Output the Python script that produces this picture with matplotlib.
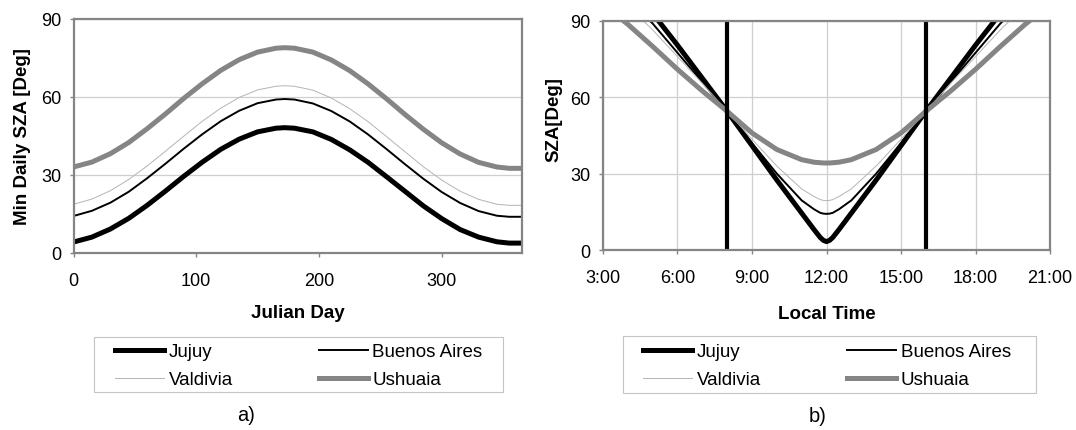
import matplotlib
matplotlib.use("Agg")
import matplotlib.pyplot as plt
from matplotlib.patches import Rectangle
from matplotlib.ticker import FixedLocator, FuncFormatter

plt.rcParams['font.family'] = ['Liberation Sans', 'DejaVu Sans']

# panel a) minimum daily SZA over the year
days = [0, 15, 30, 45, 60, 75, 90, 105, 120, 135, 150, 165, 172, 180, 195,
        210, 225, 240, 255, 270, 285, 300, 315, 330, 345, 355, 365]
jujuy_min = [4.2, 6.1, 9.2, 13.3, 18.3, 23.8, 29.5, 34.9, 39.8, 43.7, 46.5, 47.9, 48.1, 47.9,
             46.5, 43.6, 39.6, 34.8, 29.3, 23.7, 18.1, 13.2, 9.0, 6.1, 4.3, 3.8, 3.8]
bsas_min = [14.2, 16.2, 19.3, 23.5, 28.7, 34.3, 40.1, 45.6, 50.6, 54.6, 57.5, 58.9, 59.1, 58.9,
            57.4, 54.5, 50.5, 45.5, 39.9, 34.1, 28.5, 23.4, 19.2, 16.1, 14.3, 13.9, 13.9]
valdivia_min = [18.7, 20.7, 23.9, 28.2, 33.4, 39.1, 44.9, 50.6, 55.6, 59.7, 62.6, 64.0, 64.2, 64.0,
                62.5, 59.5, 55.4, 50.4, 44.7, 38.9, 33.1, 28.0, 23.7, 20.6, 18.7, 18.3, 18.3]
ushuaia_min = [33.0, 34.9, 38.1, 42.4, 47.7, 53.4, 59.4, 65.0, 70.1, 74.2, 77.1, 78.6, 78.8, 78.6,
               77.1, 74.1, 70.0, 64.9, 59.2, 53.2, 47.5, 42.3, 38.0, 34.8, 33.0, 32.5, 32.5]

# panel b) SZA along the day (hours, local time)
hours = [3, 4, 5, 6, 7, 8, 9, 10, 11, 11.5, 11.75, 11.875, 12, 12.125, 12.25, 12.5,
         13, 14, 15, 16, 17, 18, 19, 20, 21]
jujuy_day = [115, 104, 93, 80.5, 67.5, 54.5, 41, 27.5, 14.5, 8.0, 4.9, 3.8, 3.3, 3.8, 4.9, 8.0,
             14.5, 27.5, 41, 54.5, 67.5, 80.5, 93, 104, 115]
bsas_day = [107, 98.5, 89, 77.5, 66, 54.5, 42, 30, 19.5, 16, 14.6, 14.3, 14.2, 14.3, 14.6, 16,
            19.5, 30, 42, 54.5, 66, 77.5, 89, 98.5, 107]
valdivia_day = [105, 96, 86.5, 76, 65.5, 54.5, 43.5, 33, 24, 21, 19.8, 19.5, 19.4, 19.5, 19.8, 21,
                24, 33, 43.5, 54.5, 65.5, 76, 86.5, 96, 105]
ushuaia_day = [96.5, 88.7, 80, 71, 62.5, 54.5, 46, 39.5, 35.5, 34.5, 34.3, 34.2, 34.2, 34.2, 34.3, 34.5,
               35.5, 39.5, 46, 54.5, 62.5, 71, 80, 88.7, 96.5]
marker_hours = [8, 16]

names = ['Jujuy', 'Buenos Aires', 'Valdivia', 'Ushuaia']
styles = {
    'Jujuy': dict(color='black', lw=3.6),
    'Buenos Aires': dict(color='black', lw=1.4),
    'Valdivia': dict(color='#b4b4b4', lw=0.7),
    'Ushuaia': dict(color='#858585', lw=3.6),
}
frame = '#858585'
grid = '#cfcfcf'
W, H = 1076, 431


def px(x, y):
    # pixel position in the 1076x431 picture -> figure fraction
    return x / W, (H - y) / H


def style_axes(ax):
    for sp in ax.spines.values():
        sp.set_color(frame)
        sp.set_linewidth(1.6)
    ax.set_ylim(0, 90)
    ax.yaxis.set_major_locator(FixedLocator([0, 30, 60, 90]))
    ax.tick_params(direction='out', length=3, width=1, color=frame, labelsize=13)
    ax.tick_params(axis='x', pad=10.5)
    ax.tick_params(axis='y', pad=6)
    ax.grid(axis='y', color=grid, lw=0.9)
    ax.set_axisbelow(True)


def add_legend(ax, lines, hx, box):
    order = [0, 2, 1, 3]
    ax.legend([lines[i] for i in order], [names[i] for i in order], ncol=2,
              loc='upper left', bbox_to_anchor=px(hx, 344), bbox_transform=fig.transFigure,
              frameon=False, fontsize=13.5, borderpad=0, borderaxespad=0,
              handlelength=2.6, handletextpad=0.25, columnspacing=4.6, labelspacing=0.6)
    x0, y0, x1, y1 = box
    fig.patches.append(Rectangle(px(x0, y1), (x1 - x0) / W, (y1 - y0) / H,
                                 transform=fig.transFigure, fill=False,
                                 edgecolor='#c4c4c4', lw=0.8))


fig = plt.figure(figsize=(10.76, 4.31), dpi=100)

# left panel
ax1 = fig.add_axes([*px(73.5, 254), 448 / W, 234.5 / H])
series_a = [jujuy_min, bsas_min, valdivia_min, ushuaia_min]
lines_a = []
for name, vals in zip(names, series_a):
    ln, = ax1.plot(days, vals, solid_joinstyle='round', **styles[name])
    lines_a.append(ln)
ax1.set_xlim(0, 365)
ax1.xaxis.set_major_locator(FixedLocator([0, 100, 200, 300]))
style_axes(ax1)
ax1.set_xlabel('Julian Day', fontsize=13.5, fontweight='bold', va='center')
ax1.xaxis.set_label_coords(0.5, (254 - 313) / 234.5)
ax1.set_ylabel('Min Daily SZA [Deg]', fontsize=13.5, fontweight='bold', va='center')
ax1.yaxis.set_label_coords((23 - 73.5) / 448, 0.5)
add_legend(ax1, lines_a, 115, (94, 338.3, 502.7, 392.7))

# right panel
ax2 = fig.add_axes([*px(603, 251), 447 / W, 229 / H])
series_b = [jujuy_day, bsas_day, valdivia_day, ushuaia_day]
lines_b = []
for name, vals in zip(names, series_b):
    ln, = ax2.plot(hours, vals, solid_joinstyle='round', **styles[name])
    lines_b.append(ln)
for h in marker_hours:
    ax2.axvline(h, color='black', lw=3.0)
ax2.set_xlim(3, 21)
ax2.xaxis.set_major_locator(FixedLocator([3, 6, 9, 12, 15, 18, 21]))
ax2.xaxis.set_major_formatter(FuncFormatter(lambda v, p: '%d:00' % v))
style_axes(ax2)
ax2.grid(axis='x', color=grid, lw=0.9)
ax2.set_xlabel('Local Time', fontsize=13.5, fontweight='bold', va='center')
ax2.xaxis.set_label_coords(0.5, (251 - 315) / 229)
ax2.set_ylabel('SZA[Deg]', fontsize=13.5, fontweight='bold', va='center')
ax2.yaxis.set_label_coords((553.5 - 603) / 447, (251 - 120) / 229)
add_legend(ax2, lines_b, 643.3, (622.7, 337.3, 1036, 394.3))

fig.text(*px(246, 416), 'a)', fontsize=14.5, ha='center', va='center')
fig.text(*px(818, 417), 'b)', fontsize=14.5, ha='center', va='center')

fig.savefig('out.png', dpi=100)
